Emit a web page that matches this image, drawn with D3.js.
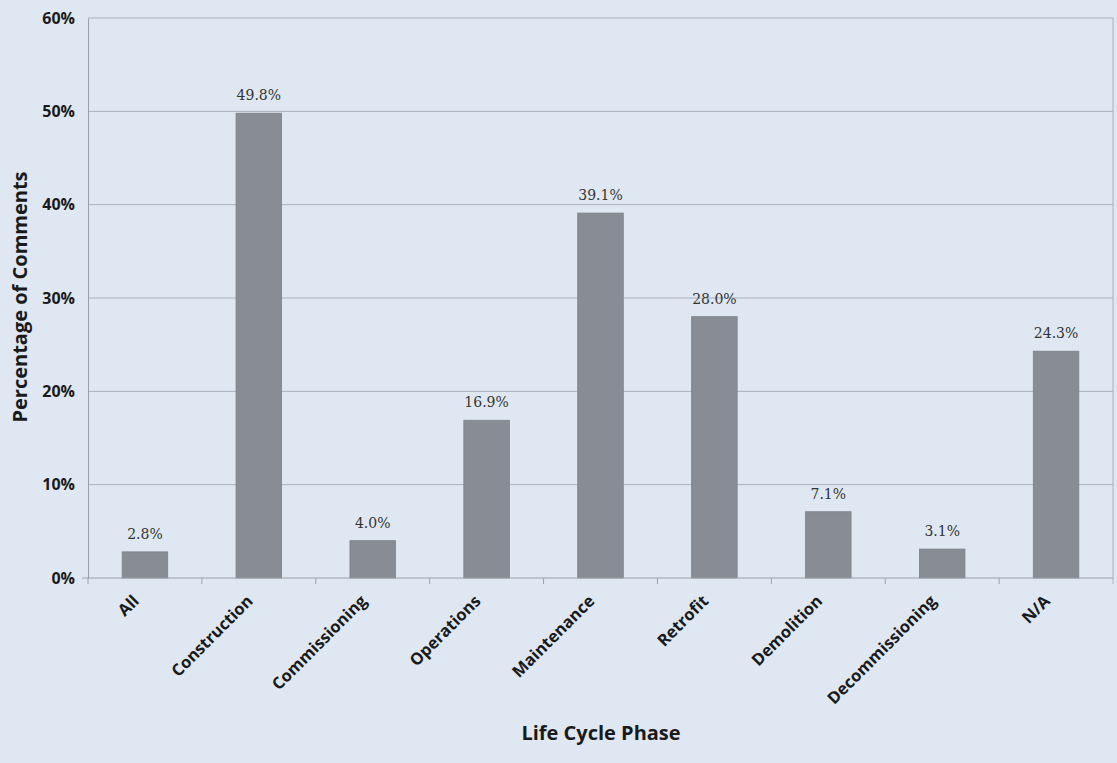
<!DOCTYPE html>
<html>
<head>
<meta charset="utf-8">
<script src="https://cdn.jsdelivr.net/npm/d3@7"></script>
<style>
  body { margin: 0; background: #dfe8f2; }
  svg { display: block; }
  .tick text { font-family: "Open Sans", "DejaVu Sans", sans-serif; font-weight: bold; fill: #1a1a1a; }
</style>
</head>
<body>
<svg id="chart" width="1117" height="763"></svg>
<script>
"use strict"
var phases = ["All", "Construction", "Commissioning", "Operations", "Maintenance", "Retrofit", "Demolition", "Decommissioning", "N/A"];
var percents = [2.8, 49.8, 4.0, 16.9, 39.1, 28.0, 7.1, 3.1, 24.3];
var yTicks = [0, 10, 20, 30, 40, 50, 60];

var svg = d3.select("svg#chart"),
    width = +svg.attr("width"),
    height = +svg.attr("height");

var margin = {top: 18, right: 4, bottom: 185, left: 88};
var plotW = width - margin.left - margin.right,
    plotH = height - margin.top - margin.bottom;

svg.append("rect").attr("width", width).attr("height", height).attr("fill", "#dfe8f2");

var g = svg.append("g").attr("transform", "translate(" + margin.left + "," + margin.top + ")");

var x = d3.scaleBand().domain(phases).range([0, plotW]).paddingInner(0.6).paddingOuter(0.3);
var xb = d3.scaleBand().domain(phases).range([0, plotW]);
var y = d3.scaleLinear().domain([0, 60]).range([plotH, 0]);

// gridlines
g.selectAll("line.grid")
    .data(yTicks.filter(function(d){ return d > 0; }))
  .enter().append("line")
    .attr("class", "grid")
    .attr("x1", 0).attr("x2", plotW)
    .attr("y1", function(d){ return y(d); }).attr("y2", function(d){ return y(d); })
    .attr("stroke", "#a7b1bd").attr("stroke-width", 1);

// right border
g.append("line").attr("x1", plotW).attr("x2", plotW).attr("y1", 0).attr("y2", plotH + 6)
    .attr("stroke", "#a7b1bd");

// y axis
var yAxis = g.append("g")
    .call(d3.axisLeft(y).tickValues(yTicks).tickFormat(function(d){ return d + "%"; }).tickSize(0).tickPadding(13));
yAxis.select(".domain").attr("stroke", "#9aa0a8");
yAxis.selectAll(".tick text").style("font-size", "16px");

// bars
g.selectAll("rect.bar")
    .data(percents)
  .enter().append("rect")
    .attr("class", "bar")
    .attr("x", function(d, i){ return x(phases[i]); })
    .attr("width", x.bandwidth())
    .attr("y", function(d){ return y(d); })
    .attr("height", function(d){ return plotH - y(d); })
    .attr("fill", "#888c94")
    .attr("stroke", "#7d8189").attr("stroke-width", 0.8);

// value labels
g.selectAll("text.val")
    .data(percents)
  .enter().append("text")
    .attr("class", "val")
    .attr("x", function(d, i){ return x(phases[i]) + x.bandwidth() / 2; })
    .attr("y", function(d){ return y(d) - 13; })
    .attr("text-anchor", "middle")
    .style("font-family", "'DejaVu Serif', 'Liberation Serif', serif")
    .style("font-size", "14px")
    .style("fill", "#333")
    .text(function(d){ return d.toFixed(1) + "%"; });

// x axis: boundary ticks
var xAxis = g.append("g").attr("transform", "translate(0," + plotH + ")");
xAxis.append("line").attr("x1", -6).attr("x2", plotW).attr("stroke", "#9aa0a8");
xAxis.selectAll("line.bt")
    .data(phases)
  .enter().append("line")
    .attr("class", "bt")
    .attr("x1", function(d){ return xb(d); }).attr("x2", function(d){ return xb(d); })
    .attr("y1", 0).attr("y2", 6)
    .attr("stroke", "#9aa0a8");

xAxis.selectAll("text.cat")
    .data(phases)
  .enter().append("text")
    .attr("class", "cat")
    .attr("transform", function(d){ return "translate(" + (xb(d) + xb.bandwidth() / 2 - 9) + ",20) rotate(-45)"; })
    .attr("text-anchor", "end")
    .attr("dy", "0.35em")
    .style("font-family", "'Open Sans', 'DejaVu Sans', sans-serif")
    .style("font-weight", "bold")
    .style("font-size", "16.5px")
    .style("fill", "#1a1a1a")
    .text(function(d){ return d; });

// axis titles
svg.append("text")
    .attr("x", 601).attr("y", 740)
    .attr("text-anchor", "middle")
    .style("font-family", "'Open Sans', 'DejaVu Sans', sans-serif")
    .style("font-weight", "bold").style("font-size", "20px").style("fill", "#1a1a1a")
    .text("Life Cycle Phase");

svg.append("text")
    .attr("transform", "translate(27,297) rotate(-90)")
    .attr("text-anchor", "middle")
    .style("font-family", "'Open Sans', 'DejaVu Sans', sans-serif")
    .style("font-weight", "bold").style("font-size", "20px").style("fill", "#1a1a1a")
    .text("Percentage of Comments");
</script>
</body>
</html>
